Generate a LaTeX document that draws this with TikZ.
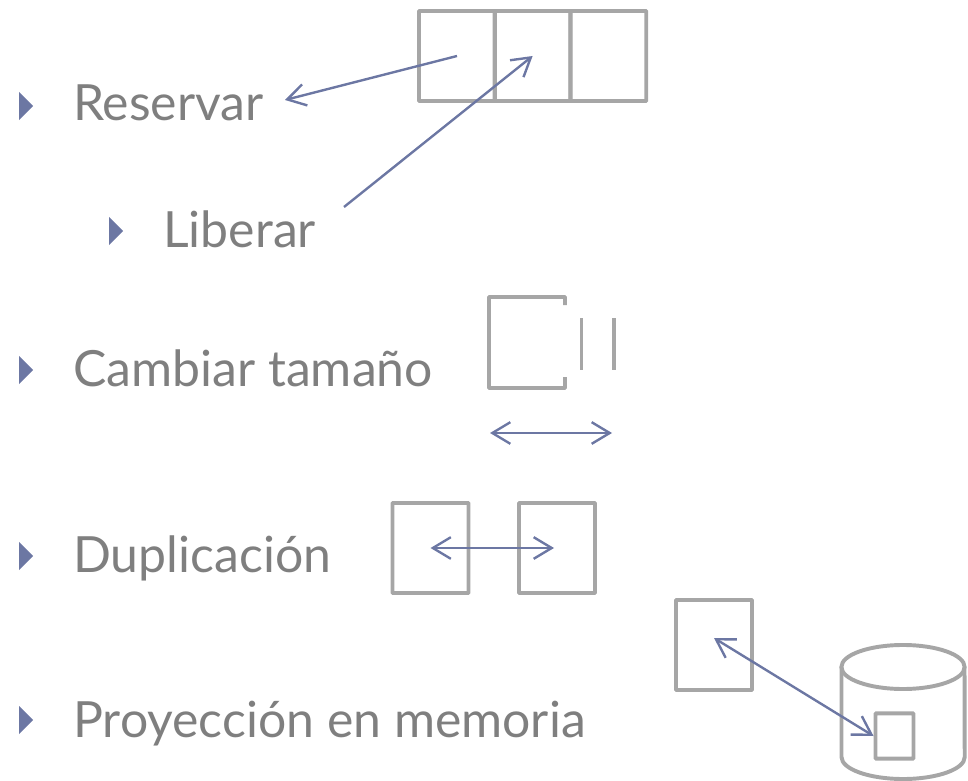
\documentclass[tikz,border=0pt]{standalone}
\usepackage{fontspec}
\setmainfont{Lato}
\usetikzlibrary{shapes.geometric,arrows.meta}
\definecolor{textgray}{HTML}{7F7F7F}
\definecolor{boxgray}{HTML}{A6A6A6}
\definecolor{arrowblue}{HTML}{6C77A3}
\begin{document}
\begin{tikzpicture}[
		x=0.025cm, y=-0.025cm,
		node distance=1.89cm,
		box/.style={rectangle, draw=boxgray, line width=2.8pt, rounded corners=0.5pt, minimum width=1.9cm, minimum height=2.25cm},
		label/.style={anchor=base west, inner sep=0pt, text=textgray, font=\fontsize{35.5}{38}\selectfont},
		bullet/.style={isosceles triangle, isosceles triangle stretches, fill=arrowblue, inner sep=0pt, minimum width=0.7cm, minimum height=0.35cm},
		barb/.tip={Straight Barb[length=0.45cm, width=0.54cm, line width=1.7pt]},
		arrow/.style={-barb, line width=1.7pt, draw=arrowblue},
		both/.style={barb-barb, line width=1.7pt, draw=arrowblue},
		wall/.style={draw=boxgray, line width=2.8pt}
	]
	\useasboundingbox (0,0) rectangle (968,781);

	\node[bullet] (reservarb) at (25,106) {};
	\node[label] (reservar) at (73,121) {Reservar};
	\node[bullet] (liberarb) at (115,231) {};
	\node[label] (liberar) at (163,247) {Liberar};
	\node[bullet] (cambiarb) at (25,370) {};
	\node[label] (cambiar) at (73,386) {Cambiar tamaño};
	\node[bullet] (duplicab) at (25,556) {};
	\node[label] (duplica) at (73,572) {Duplicación};
	\node[bullet] (proyectab) at (25,720) {};
	\node[label] (proyecta) at (73,737) {Proyección en memoria};

	% reservar y liberar
	\node[box] (cella) at (457,56) {};
	\node[box, right of=cella] (cellb) {};
	\node[box, right of=cellb] (cellc) {};
	\coordinate (freeend) at (285,100);
	\coordinate (freestart) at (344,207);
	\draw[arrow] (cella.center) -- (freeend);
	\draw[arrow] (freestart) -- (cellb.center);

	% cambiar
	\draw[wall, rounded corners=0.5pt] (565,305) -- (565,297) -- (489,297) -- (489,388) -- (565,388) -- (565,377);
	\draw[wall] (581.5,318) -- (581.5,370);
	\draw[wall] (614,318) -- (614,370);
	\coordinate (sizel) at (490,433);
	\coordinate (sizer) at (612,433);
	\draw[both] (sizel) -- (sizer);

	% duplicar
	\node[box] (origen) at (430.5,548) {};
	\node[box] (copia) at (557,548) {};
	\draw[both, shorten >=0.075cm] (origen.center) -- (copia.center);

	% proyectar
	\node[box] (vista) at (714,645) {};
	\coordinate (disco) at (903,667);
	\draw[wall] (disco) ellipse [x radius=1.54cm, y radius=0.55cm];
	\draw[wall] (841.5,667) -- (841.5,757) arc [start angle=180, end angle=360, x radius=1.54cm, y radius=0.55cm] -- (964.5,667);
	\node[box, minimum width=0.95cm, minimum height=1.13cm] (bloque) at (894.5,736) {};
	\draw[both] ([yshift=0.175cm]vista.center) -- (bloque.west);
\end{tikzpicture}
\end{document}
